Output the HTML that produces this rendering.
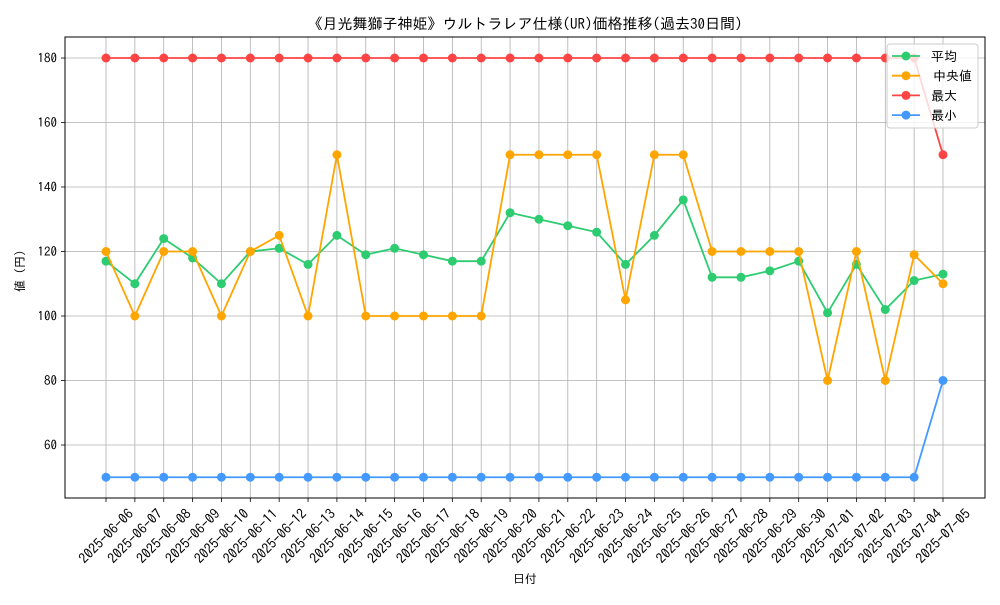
<!DOCTYPE html>
<html><head><meta charset="utf-8"><style>
body{margin:0;background:#fff;}
svg text{font-family:"IPAGothic","Noto Sans CJK JP",sans-serif;fill:#000;}
</style></head><body>
<svg id="chart" width="1000" height="600" xmlns="http://www.w3.org/2000/svg"></svg>
<script>
const dates=["2025-06-06","2025-06-07","2025-06-08","2025-06-09","2025-06-10","2025-06-11","2025-06-12","2025-06-13","2025-06-14","2025-06-15","2025-06-16","2025-06-17","2025-06-18","2025-06-19","2025-06-20","2025-06-21","2025-06-22","2025-06-23","2025-06-24","2025-06-25","2025-06-26","2025-06-27","2025-06-28","2025-06-29","2025-06-30","2025-07-01","2025-07-02","2025-07-03","2025-07-04","2025-07-05"];
const avgValues=[117,110,124,118,110,120,121,116,125,119,121,119,117,117,132,130,128,126,116,125,136,112,112,114,117,101,116,102,111,113];
const medianValues=[120,100,120,120,100,120,125,100,150,100,100,100,100,100,150,150,150,150,105,150,150,120,120,120,120,80,120,80,119,110];
const maxValues=[180,180,180,180,180,180,180,180,180,180,180,180,180,180,180,180,180,180,180,180,180,180,180,180,180,180,180,180,180,150];
const minValues=[50,50,50,50,50,50,50,50,50,50,50,50,50,50,50,50,50,50,50,50,50,50,50,50,50,50,50,50,50,80];
const yTicks=[60,80,100,120,140,160,180];
const seriesNames=["平均","中央値","最大","最小"];

const NS="http://www.w3.org/2000/svg";
const svg=document.getElementById('chart');
const L=65,R=985,T=37,B=498;
const x0=106,x1=943;
const xs=i=>x0+(x1-x0)*i/(dates.length-1);
const ys=v=>58+(180-v)*(445-58)/120;
function mk(tag,attrs,parent){const e=document.createElementNS(NS,tag);for(const k in attrs)e.setAttribute(k,attrs[k]);(parent||svg).appendChild(e);return e;}

const grid=mk('g',{});


dates.forEach((d,i)=>{
  const l=mk('line',{x1:xs(i),x2:xs(i),y1:T,y2:B,stroke:'#b0b0b0','stroke-width':0.8},grid);
  
  
  mk('line',{x1:xs(i),x2:xs(i),y1:B,y2:B+4,stroke:'#000','stroke-width':0.8});
  const t=mk('text',{x:0,y:0,'font-size':14,'text-anchor':'middle','dominant-baseline':'central',transform:`translate(${xs(i)},${536}) rotate(-45)`});
  t.textContent=d;
  
  
});
yTicks.forEach(v=>{
  const l=mk('line',{x1:L,x2:R,y1:ys(v),y2:ys(v),stroke:'#b0b0b0','stroke-width':0.8},grid);
  
  
  mk('line',{x1:L-4,x2:L,y1:ys(v),y2:ys(v),stroke:'#000','stroke-width':0.8});
  const t=mk('text',{x:L-8,y:ys(v)+4.5,'font-size':13,'text-anchor':'end'});
  t.textContent=v;
  
  
});
const frame=mk('rect',{x:L,y:T,width:R-L,height:B-T,fill:'none',stroke:'#000','stroke-width':1});



const series=[[avgValues,'#2ecc71'],[medianValues,'#ffa500'],[maxValues,'#ff4444'],[minValues,'#4499ff']];
series.forEach(([vals,c],si)=>{
  const g=mk('g',{});
  
  
  mk('polyline',{points:vals.map((v,i)=>xs(i)+','+ys(v)).join(' '),fill:'none',stroke:c,'stroke-width':1.8},g);
  vals.forEach((v,i)=>{
    const p=mk('circle',{cx:xs(i),cy:ys(v),r:4.5,fill:c},g);
    
    
  });
});

const lg=mk('g',{});


mk('rect',{x:887,y:44,width:91,height:84,rx:3,fill:'#fff','fill-opacity':0.8,stroke:'#ccc'},lg);
series.forEach(([vals,c],i)=>{
  const y=56+i*19.7;
  const e=mk('g',{},lg);
  
  
  mk('line',{x1:892,x2:920,y1:y,y2:y,stroke:c,'stroke-width':1.8},e);
  mk('circle',{cx:906,cy:y,r:4.5,fill:c},e);
  const t=mk('text',{x:i==1?933:931,y:y+5,'font-size':13},e);
  t.textContent=seriesNames[i];
});

const title=mk('text',{x:525,y:29,'font-size':15,'text-anchor':'middle'});
title.textContent="《月光舞獅子神姫》ウルトラレア仕様(UR)価格推移(過去30日間)";


const xt=mk('text',{x:525,y:583,'font-size':12,'text-anchor':'middle'});
xt.textContent="日付";


const yt=mk('text',{x:0,y:0,'font-size':12,'text-anchor':'middle',transform:'translate(24,268) rotate(-90)'});
yt.textContent="値（円）";


</script>
</body></html>
